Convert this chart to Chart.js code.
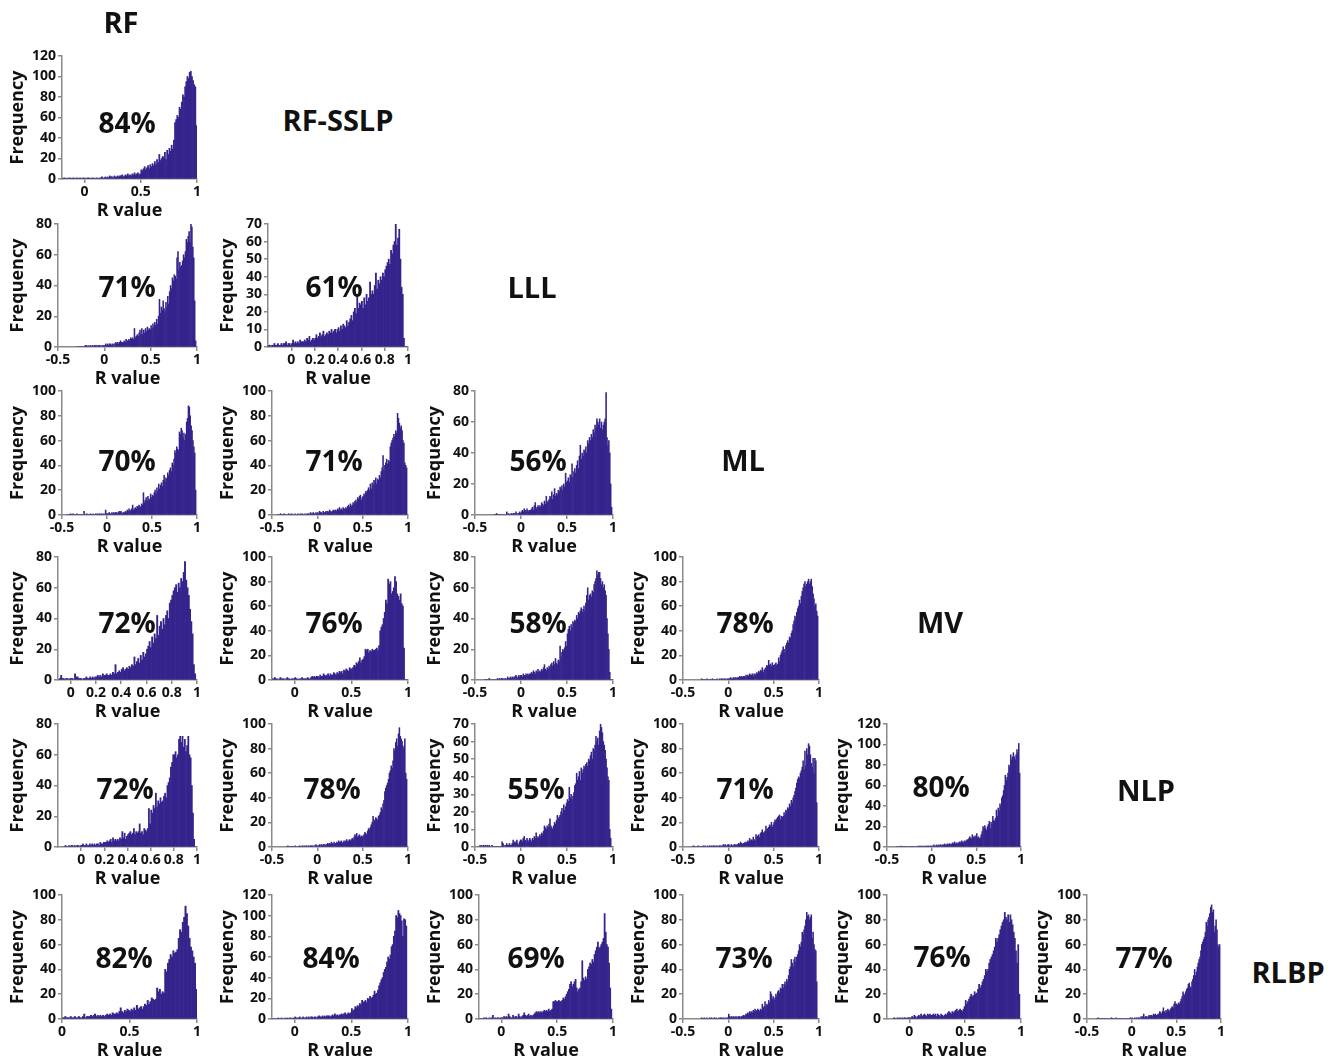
<!DOCTYPE html>
<html><head><meta charset="utf-8">
<script src="https://cdn.jsdelivr.net/npm/chart.js@4.4.1/dist/chart.umd.min.js"></script>
<style>
html,body{margin:0;padding:0;background:#fff;}
#stage{position:relative;width:1338px;height:1059px;overflow:hidden;font-family:'Open Sans',Lato,sans-serif;}
#stage canvas{position:absolute;}
.lbl{position:absolute;transform:translate(-50%,-50%);font-weight:700;color:#111;white-space:nowrap;line-height:1;font-family:'Open Sans',Lato,sans-serif;}
.pct{font-size:28px;}
.method{font-size:29px;}
</style></head><body><div id="stage"></div>
<script>
// ---------------- DATA ----------------
// Histogram bin width (R value); every series ends with the bin [0.99, 1.00)
const binWidth = 0.01;
const methods = ['RF', 'RF-SSLP', 'LLL', 'ML', 'MV', 'NLP', 'RLBP'];

// percentages printed in each panel, [row][col]
const percents = [
  [84],
  [71, 61],
  [70, 71, 56],
  [72, 76, 58, 78],
  [72, 78, 55, 71, 80],
  [82, 84, 69, 73, 76, 77]
];
// y axis maxima and steps
const yMaxes = [
  [120],
  [80, 70],
  [100, 100, 80],
  [80, 100, 80, 100],
  [80, 100, 70, 100, 120],
  [100, 120, 100, 100, 100, 100]
];
const ySteps = [[20],[20,10],[20,20,20],[20,20,20,20],[20,20,10,20,20],[20,20,20,20,20,20]];
// x axis minima
const xMins = [
  [-0.2],
  [-0.5, -0.2],
  [-0.5, -0.5, -0.5],
  [-0.1, -0.2, -0.5, -0.5],
  [-0.2, -0.5, -0.5, -0.5, -0.5],
  [0, -0.2, -0.2, -0.5, -0.2, -0.5]
];
// x tick label sets
const ticksHalf = [-0.5, 0, 0.5, 1];
const ticksHalfPos = [0, 0.5, 1];
const ticksFifth = [0, 0.2, 0.4, 0.6, 0.8, 1];
const xTickSets = [
  [ticksHalfPos],
  [ticksHalf, ticksFifth],
  [ticksHalf, ticksHalf, ticksHalf],
  [ticksFifth, ticksHalfPos, ticksHalf, ticksHalf],
  [ticksFifth, ticksHalf, ticksHalf, ticksHalf, ticksHalf],
  [ticksHalfPos, ticksHalfPos, ticksHalfPos, ticksHalf, ticksHalfPos, ticksHalf]
];

// Frequencies per 0.01 bin
const rfsslp_rf = [0,1,1,0,1,0,1,1,0,1, 1,0,1,1,0,1,1,0,1,1, 1,0,1,1,1,0,1,1,1,0, 1,1,0,1,1,2,1,1,2,1,
  2,1,3,2,2,1,3,2,2,3, 2,3,3,4,2,3,4,3,5,3, 4,3,5,4,6,4,5,6,4,5, 9,8,10,12,9,11,13,10,14,12,
  15,13,17,14,19,16,24,18,20,22, 21,26,19,28,24,30,27,33,29,38, 55,58,62,60,70,68,75,82,80,90,
  95,100,98,104,105,100,96,92,90,52];
const lll_rf = [0,0,0,0,0,0,0,0,0,1, 1,0,1,0,1,1,0,1,0,1, 1,1,0,1,1,1,0,1,1,1, 1,2,1,2,1,2,2,1,2,1,
  2,2,3,2,3,2,3,4,3,3, 3,4,3,5,4,4,5,4,6,5, 6,5,12,6,7,8,7,9,11,8, 12,8,11,9,12,10,13,11,12,11,
  14,12,15,13,16,14,18,15,20,31, 22,26,24,30,25,23,29,26,33,28, 36,40,38,45,43,47,46,44,58,62,
  50,55,52,53,56,60,58,62,70,68, 72,75,68,80,78,65,58,30,4,0];
const lll_rfsslp = [1,1,0,1,1,2,1,1,2,1, 1,2,1,2,2,3,1,2,2,1, 2,4,2,3,2,3,2,4,3,3, 3,4,3,5,4,6,3,4,5,4,
  5,7,5,6,8,6,7,9,6,7, 8,7,9,8,10,8,9,10,8,10, 11,9,12,10,13,12,11,15,12,14, 16,18,15,20,22,19,30,22,25,24,
  26,22,28,24,30,26,28,37,30,32, 30,35,42,33,38,36,40,38,42,40, 44,46,48,50,47,55,53,58,60,70,
  58,62,67,50,34,30,5,0,0,0];
const ml_rf = [0,0,0,0,1, 0,0,1,0,0,0,1,0,0,0, 0,0,0,0,3,0,0,1,0,0, 0,1,0,0,1,0,0,1,0,1, 0,1,0,1,1,0,1,0,4,1,
  1,1,2,1,1,2,1,2,1,2, 2,1,2,3,2,3,2,1,2,2, 3,2,4,3,5,4,3,5,8,4, 5,6,5,7,6,8,7,6,9,8,
  18,10,12,14,11,15,13,12,17,14, 16,15,18,20,17,22,19,25,21,24, 26,23,28,32,27,30,29,34,32,36,
  38,35,42,40,45,52,50,55,53,52, 67,65,70,68,62,66,60,65,75,78, 88,87,80,72,68,60,55,50,20,0];
const ml_rfsslp = [0,0,0,0,1, 0,0,0,1,0,0,0,0,1,0, 0,1,0,0,0,1,0,0,1,0, 0,1,0,1,0,0,1,0,1,1, 1,0,2,1,1,2,1,1,2,1,
  2,1,3,2,2,1,3,2,2,3, 2,3,2,4,3,2,3,4,3,4, 4,3,5,4,6,4,5,4,6,5, 5,6,5,7,8,6,9,7,8,10,
  9,11,12,10,14,13,15,16,12,14, 15,17,16,19,18,20,22,20,25,21, 26,24,28,27,30,25,29,28,32,30,
  35,38,48,36,40,42,45,41,44,43, 55,58,60,62,65,63,68,66,82,78, 74,70,72,68,60,58,42,40,38,0];
const ml_lll = [0,0,0,1,0,0,0,0,0,0, 0,0,0,0,2,0,1,0,0,1, 0,1,1,0,2,1,0,1,2,1, 2,3,2,4,3,2,4,3,2,3,
  3,4,5,3,6,8,4,5,6,5, 6,5,8,7,6,9,7,12,8,9, 10,12,11,15,10,13,17,12,14,13, 16,15,18,17,19,16,20,18,27,21,
  22,24,21,26,25,33,24,28,30,27, 32,35,30,38,45,36,40,38,42,41, 44,40,48,46,50,48,52,50,55,53,
  58,56,62,60,58,62,56,60,55,58, 60,62,79,50,45,48,40,20,5,0];
const mv_rf = [0,1,3,1,1,0,1,1,0,1, 1,1,0,4,2,2,1,1,1,0, 1,1,2,1,1,2,1,2,1,2, 2,3,2,3,2,4,3,3,4,3,
  3,4,3,5,4,10,4,5,6,5, 7,8,6,7,8,7,9,8,10,9, 15,10,12,14,11,16,13,18,15,17, 20,22,25,21,28,24,30,27,42,29,
  35,38,33,40,36,42,45,40,50,52, 55,58,60,62,57,63,60,66,64,70, 77,65,60,55,46,38,30,10,4,0];
const mv_rfsslp = [1,1,2,1,1,0,1,2,1,1, 1,0,1,2,1,1,0,1,1,1, 2,1,1,0,1,1,2,1,1,1, 1,2,1,1,2,3,2,3,2,3,
  3,2,4,3,3,5,4,3,4,5, 3,5,4,4,6,5,4,6,5,7, 6,7,5,8,7,9,8,7,10,9, 9,10,12,11,14,13,15,18,14,16,
  17,19,25,24,25,22,24,23,25,24, 24,25,26,24,28,40,43,45,50,55, 65,62,82,78,80,70,72,75,84,80,
  70,68,65,70,62,60,26,0,0,0];
const mv_lll = [0,0,0,0,0,1,0,0,0,0, 0,0,0,0,1,0,1,0,1,1, 1,0,1,1,0,2,1,1,2,1, 2,1,2,2,3,2,1,3,2,3,
  3,2,4,3,3,4,3,4,3,4, 4,5,4,6,5,4,6,5,7,5, 6,5,7,6,8,10,7,6,8,7, 9,8,10,11,9,12,10,14,11,10,
  13,12,22,15,18,20,19,21,25,22, 30,33,35,32,36,34,38,37,39,38, 42,40,44,43,45,47,44,46,48,45,
  50,55,60,52,55,56,54,58,57,62, 64,66,71,68,70,70,66,62,64,60, 62,58,55,40,30,20,5,0,0,0];
const mv_ml = [1,0,0,0,0,0,1,0,0,0, 0,0,1,0,0,0,0,1,0,0, 1,0,1,1,0,1,1,0,1,1, 1,1,2,1,1,2,1,2,2,1,
  2,2,3,2,3,2,3,3,2,4, 3,4,3,5,4,4,5,3,5,4, 5,6,5,7,6,8,7,10,6,8, 9,10,12,11,16,12,13,11,14,12,
  12,13,14,12,13,18,15,20,22,24, 27,25,22,28,30,32,30,35,34,38, 40,45,48,52,50,55,58,60,65,62,
  68,72,75,78,80,76,78,80,82,78, 80,82,76,70,66,60,62,56,52,0];
const nlp_rf = [0,1,0,0,1, 0,1,1,0,1,0,1,1,0,1, 1,2,1,1,2,1,1,2,1,2, 1,2,1,2,2,1,3,2,2,3,
  3,3,4,3,4,5,3,6,4,5, 4,5,4,6,5,10,6,9,5,7, 8,9,10,8,9,12,8,10,9,10, 15,9,10,8,12,11,10,12,25,15,
  24,22,27,25,35,26,30,28,32,29, 30,33,35,32,40,42,45,52,55,60, 60,62,58,60,70,72,68,72,65,70,
  62,66,72,60,58,40,22,5,0,0];
const nlp_rfsslp = [0,0,1,0,0, 0,0,0,0,0,1,0,0,0,0, 1,0,0,1,0,1,0,1,1,0, 1,0,1,1,1,0,1,1,2,1,
  1,1,2,1,2,1,2,2,1,2, 2,3,2,3,2,4,3,2,4,3, 3,4,3,5,4,4,5,3,4,5, 4,5,6,4,5,6,5,6,7,6,
  8,10,9,11,8,9,10,8,9,8, 9,10,12,11,10,13,15,14,16,18, 20,25,22,21,24,23,22,25,26,28,
  32,30,35,38,45,48,50,52,55,60, 62,66,64,70,80,78,85,88,82,92, 97,90,88,86,82,80,88,60,55,0];
const nlp_lll = [1,0,1,0,1, 0,1,0,1,0,1,0,0,1,0, 0,0,0,0,0,0,0,0,0,3, 2,1,0,1,2,1,1,2,1,1, 2,4,3,2,3,4,2,1,3,4,
  4,3,5,6,4,3,5,4,3,5, 4,3,5,4,6,5,8,5,6,5, 7,6,8,7,9,12,11,10,12,11, 13,16,12,11,10,12,14,13,15,18,
  16,17,18,20,22,19,24,21,23,25, 27,26,34,28,30,27,29,31,35,36, 42,38,40,43,38,45,42,44,46,45,
  47,48,46,50,49,52,54,50,56,55, 58,63,60,62,58,66,70,68,65,60, 58,55,50,45,40,38,10,5,0,0];
const nlp_ml = [0,1,0,0,0,0,1,0,0,0, 0,0,1,0,1,0,0,1,0,1, 0,1,0,1,1,0,1,1,0,1, 1,1,0,1,2,1,2,1,1,2,
  2,1,1,2,1,1,2,2,1,2, 2,3,2,4,3,2,3,3,4,3, 4,5,4,7,5,6,5,8,6,5, 10,8,9,10,8,11,12,14,11,12,
  13,17,14,15,16,18,17,20,16,18, 20,22,21,23,24,25,26,22,25,24, 25,28,26,30,29,32,31,35,33,38,
  36,40,42,45,48,52,55,57,56,60, 62,65,70,63,78,66,80,75,84,82, 75,68,65,72,60,72,70,36,0,0];
const nlp_mv = [0,0,0,0,0,1,0,0,0,0, 0,0,0,0,0,0,0,0,0,0, 0,0,0,0,1,0,1,0,1,0, 1,0,1,1,0,1,1,0,1,1,
  1,1,2,1,1,2,1,2,1,2, 2,1,2,2,3,2,2,3,2,3, 3,2,3,4,3,5,3,4,3,4, 4,5,4,6,5,4,6,5,6,7,
  7,8,10,9,8,12,10,9,11,10, 13,9,10,8,9,12,15,20,18,21, 18,16,20,22,25,18,24,22,30,26,
  25,28,36,30,38,35,42,40,48,50, 55,60,70,65,68,72,80,78,90,85, 88,92,88,85,90,95,92,101,72,0];
const rlbp_rf = [1,1,2,1,1,1,2,1,1,2, 1,1,2,1,1,2,4,1,2,2, 2,3,2,3,4,2,3,2,3,2, 3,2,3,4,3,4,3,5,4,4,
  5,4,6,9,6,5,7,6,8,7, 6,8,7,9,7,11,8,9,10,8, 10,12,11,15,12,14,17,16,15,16, 25,22,24,20,22,21,40,38,45,48,
  52,50,55,53,54,56,65,72,70,78, 82,91,85,75,65,58,55,50,45,24];
const rlbp_rfsslp = [0,0,0,0,0,1,0,0,1,0, 0,1,0,1,0,1,1,0,1,1, 2,1,1,1,2,1,1,2,1,1, 2,1,2,1,2,2,1,2,2,1,
  2,3,2,2,3,2,3,2,3,3, 3,2,3,4,3,5,3,4,3,4, 4,5,4,5,6,4,5,6,5,6, 10,8,9,12,11,13,12,15,14,18,
  16,17,18,16,20,19,22,20,21,23, 27,24,25,28,32,35,38,40,45,48, 50,55,60,58,62,70,72,80,85,100,
  98,105,102,100,95,80,97,96,90,0];
const rlbp_lll = [0,0,0,0,1,0,1,0,0,1, 0,1,3,0,1,0,1,1,0,1, 1,1,2,1,2,1,4,2,1,1, 3,1,2,2,1,4,2,1,2,3,
  5,3,2,3,4,2,3,2,3,4, 5,6,5,6,5,6,5,6,7,6, 7,6,8,6,7,8,14,14,15,14, 14,15,14,14,15,17,16,18,20,22,
  24,28,30,26,28,30,32,25,22,24, 25,30,47,33,31,34,32,40,42,45, 44,48,46,52,55,58,62,57,58,60,
  62,65,85,70,60,58,45,25,8,0];
const rlbp_ml = [1,0,0,1,0,0,1,0,0,1, 0,1,0,0,1,0,1,0,0,1, 0,1,1,0,1,0,1,0,1,1, 4,2,1,2,1,2,1,2,1,2,
  1,2,2,1,2,2,3,2,3,4, 4,5,4,6,5,6,5,7,6,8, 6,7,8,7,6,8,7,12,9,10, 14,10,12,11,15,13,22,20,16,18,
  15,17,20,18,22,23,21,25,24,28, 25,28,30,27,32,30,35,40,42,48, 45,42,48,50,46,50,52,55,60,58,
  62,70,68,72,75,80,86,83,84,80, 82,84,65,70,60,56,55,30,0,0];
const rlbp_mv = [0,1,0,0,1, 0,1,0,1,0,1,1,0,1,1, 1,1,2,1,3,2,1,2,3,2, 4,2,3,4,3,2,4,3,4,3,
  3,4,3,4,2,4,3,2,4,3, 2,3,4,3,5,6,5,4,6,5, 6,7,8,6,7,8,7,6,8,10, 15,12,14,16,18,20,18,19,22,20,
  21,24,28,25,27,30,32,35,40,38, 40,45,48,50,52,55,58,65,62,65, 68,72,75,78,80,86,82,80,84,78,
  84,80,76,70,65,55,45,60,20,0];
const rlbp_nlp = [0,0,1,0,0,0,0,0,0,0, 0,0,0,0,0,0,0,1,0,0, 0,0,1,0,0,0,0,0,0,0, 0,0,0,0,0,0,0,0,1,0,
  1,0,0,1,0,1,0,1,1,0, 2,1,2,4,1,2,2,1,2,3, 2,3,3,2,4,3,4,3,3,4, 4,6,5,4,6,9,6,5,7,6,
  8,7,6,8,9,10,9,12,14,12, 12,11,13,12,14,16,18,22,20,19, 22,24,25,28,29,26,25,30,32,35,
  40,35,38,42,45,48,50,55,60,62, 64,66,70,78,75,80,82,85,90,92, 86,88,70,75,80,72,60,58,60,0];

const freqs = [
  [rfsslp_rf],
  [lll_rf, lll_rfsslp],
  [ml_rf, ml_rfsslp, ml_lll],
  [mv_rf, mv_rfsslp, mv_lll, mv_ml],
  [nlp_rf, nlp_rfsslp, nlp_lll, nlp_ml, nlp_mv],
  [rlbp_rf, rlbp_rfsslp, rlbp_lll, rlbp_ml, rlbp_mv, rlbp_nlp]
];

// ---------------- LAYOUT ----------------
const rowTop = [56, 224, 391, 557, 724, 895];
const rowBottom = [179, 347, 515, 680, 847, 1019];
const colAxis = [62, 272, 479, 683, 887, 1087];
const colRight = [197, 408, 613, 819, 1021, 1221];
const pctPos = [
  [[127,122]],
  [[127,286],[334,286]],
  [[127,460],[334,460],[538,460]],
  [[127,622],[334,622],[538,622],[745,622]],
  [[125,788],[332,788],[536,788],[745,788],[941,786]],
  [[124,957],[331,957],[536,957],[744,957],[942,956],[1144,957]]
];
const methodPos = [[121,21],[338,119],[532,286],[743,459],[940,621],[1146,789],[1288,971]];

const barColor = '#35248c';
const axisColor = '#8a8a8a';
const textColor = '#111111';
const fontFamily = "'Open Sans', Lato, sans-serif";
const xAxisHeight = 46;

Chart.defaults.font.family = fontFamily;
Chart.defaults.font.weight = 'bold';
Chart.defaults.color = textColor;

const stage = document.getElementById('stage');

function addLabel(text, x, y, cls) {
  const d = document.createElement('div');
  d.className = 'lbl ' + cls;
  d.textContent = text;
  d.style.left = x + 'px';
  d.style.top = y + 'px';
  stage.appendChild(d);
}

for (let r = 0; r < freqs.length; r++) {
  for (let c = 0; c < freqs[r].length; c++) {
    const freq = freqs[r][c];
    const yMax = yMaxes[r][c];
    const plotLeft = colAxis[c] - (yMax >= 100 ? 0 : 4);
    const cx = colAxis[c] - 56;
    const cy = rowTop[r] - 14;
    const w = colRight[c] + 14 - cx;
    const h = rowBottom[r] + xAxisHeight - cy;
    const canvas = document.createElement('canvas');
    canvas.width = w; canvas.height = h;
    canvas.style.left = cx + 'px'; canvas.style.top = cy + 'px';
    canvas.style.width = w + 'px'; canvas.style.height = h + 'px';
    stage.appendChild(canvas);
    const n = freq.length;
    const pts = freq.map((v, i) => ({ x: 1 - (n - i - 0.5) * binWidth, y: v }));
    const xt = xTickSets[r][c];
    new Chart(canvas, {
      type: 'bar',
      data: { datasets: [{ data: pts, backgroundColor: barColor, borderWidth: 0,
        barPercentage: 1, categoryPercentage: 1 }] },
      options: {
        responsive: false, animation: false, devicePixelRatio: 1,
        layout: { padding: { left: 0, top: 14, right: 14, bottom: 0 } },
        plugins: { legend: { display: false }, tooltip: { enabled: false } },
        scales: {
          x: {
            type: 'linear', min: xMins[r][c], max: 1, offset: false,
            afterBuildTicks: ax => { ax.ticks = xt.map(v => ({ value: v })); },
            afterFit: ax => { ax.height = xAxisHeight; },
            ticks: { font: { size: 14, weight: 'bold', family: fontFamily }, color: textColor, padding: 1,
              maxRotation: 0, autoSkip: false, callback: v => String(v) },
            grid: { display: true, drawOnChartArea: false, drawTicks: true, tickLength: 4,
              color: axisColor, lineWidth: 1.5, offset: false },
            border: { display: true, color: axisColor, width: 1.5 },
            title: { display: true, text: 'R value', font: { size: 18, weight: 'bold', family: fontFamily },
              color: textColor, padding: { top: 0, bottom: 3 } }
          },
          y: {
            min: 0, max: yMax,
            afterFit: ax => { ax.width = plotLeft - cx; },
            ticks: { stepSize: ySteps[r][c], autoSkip: false, font: { size: 14, weight: 'bold', family: fontFamily },
              color: textColor, padding: 2, callback: v => String(v) },
            grid: { display: true, drawOnChartArea: false, drawTicks: true, tickLength: 4,
              color: axisColor, lineWidth: 1.5 },
            border: { display: true, color: axisColor, width: 1.5 },
            title: { display: true, text: 'Frequency', font: { size: 18, weight: 'bold', family: fontFamily },
              color: textColor, padding: { top: 1, bottom: 0 } }
          }
        }
      }
    });
    addLabel(percents[r][c] + '%', pctPos[r][c][0], pctPos[r][c][1], 'pct');
  }
}
methods.forEach((m, i) => addLabel(m, methodPos[i][0], methodPos[i][1], 'method'));
</script></body></html>
